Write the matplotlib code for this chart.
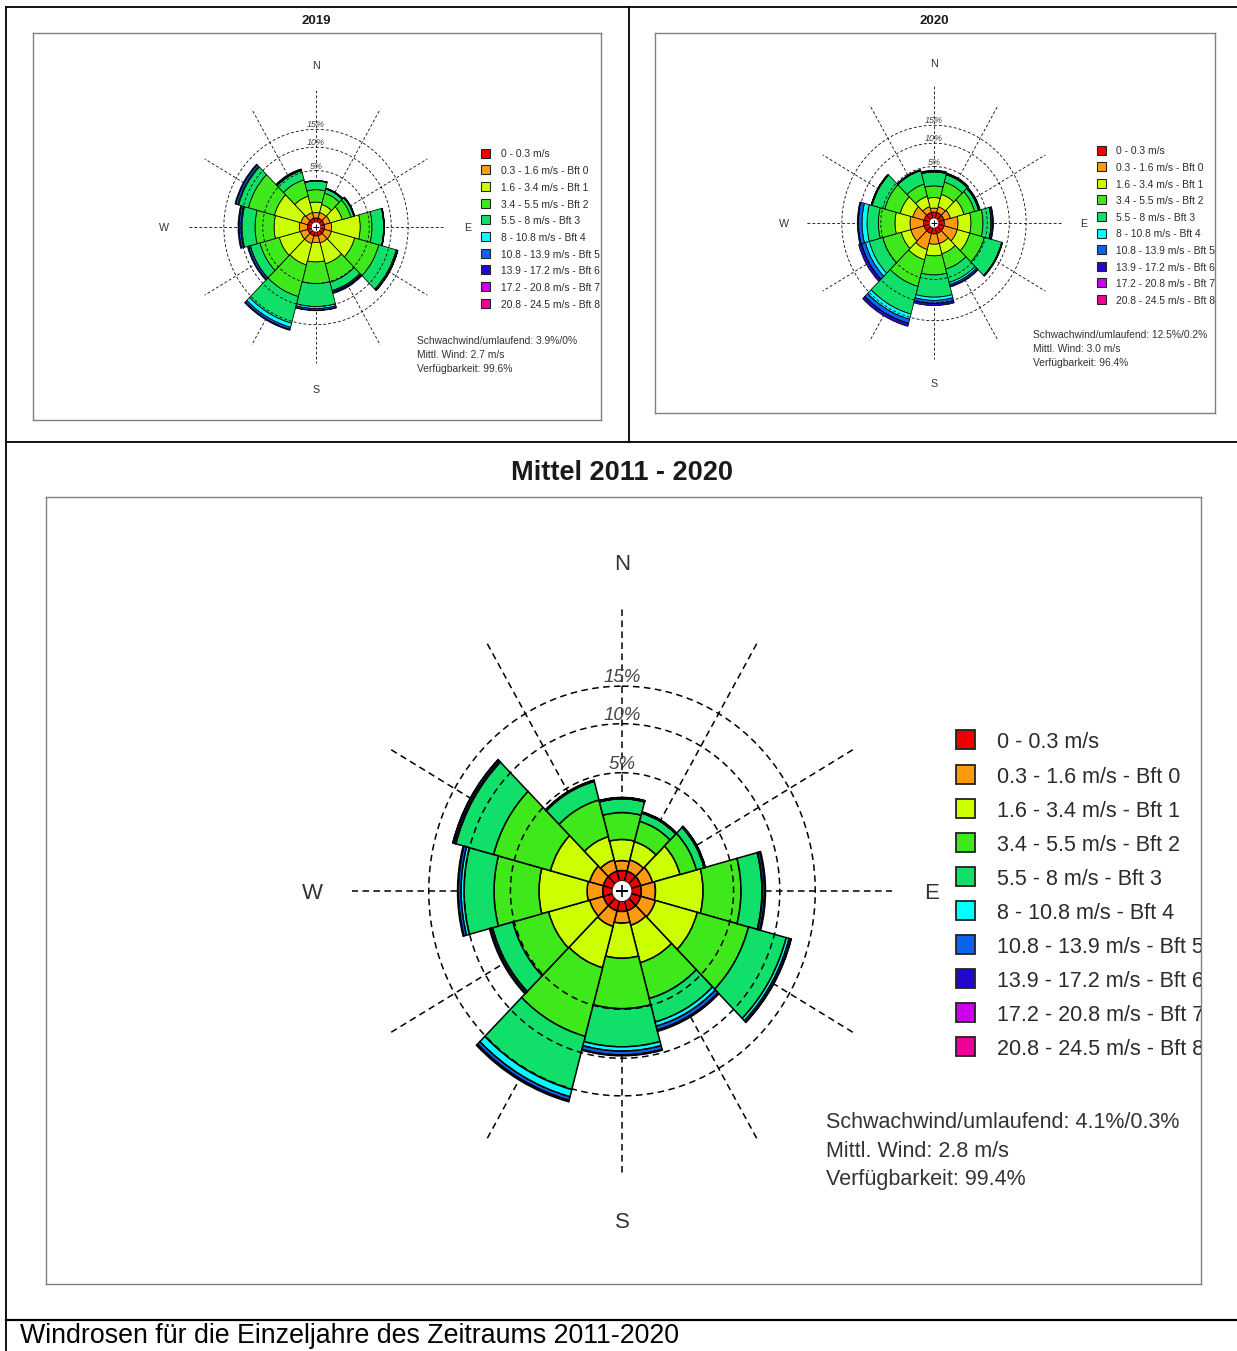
import numpy as np
import matplotlib.pyplot as plt
from matplotlib.patches import Rectangle

plt.rcParams['font.family'] = ['Liberation Sans', 'DejaVu Sans']

W, H = 1237, 1351

# sectors: N, NNE, ENE, E, ESE, SSE, S, SSW, WSW, W, WNW, NNW (degrees from north)
directions = [0, 30, 60, 90, 120, 150, 180, 210, 240, 270, 300, 330]

speed_labels = ['0 - 0.3 m/s', '0.3 - 1.6 m/s - Bft 0', '1.6 - 3.4 m/s - Bft 1',
                '3.4 - 5.5 m/s - Bft 2', '5.5 - 8 m/s - Bft 3', '8 - 10.8 m/s - Bft 4',
                '10.8 - 13.9 m/s - Bft 5', '13.9 - 17.2 m/s - Bft 6',
                '17.2 - 20.8 m/s - Bft 7', '20.8 - 24.5 m/s - Bft 8']
bin_colors = ['#ee0000', '#ff9a10', '#ccff00', '#3fe81a', '#10e06a', '#00ffff',
              '#0a64f0', '#2208cc', '#cc00ee', '#ee0099']

ring_levels = [5, 10, 15]

# frequency in % per speed class (rows) and sector (columns)
freq_2019 = [
    [0.13, 0.13, 0.13, 0.13, 0.13, 0.13, 0.13, 0.13, 0.13, 0.13, 0.13, 0.13],
    [0.20, 0.22, 0.25, 0.30, 0.32, 0.30, 0.25, 0.33, 0.33, 0.36, 0.30, 0.22],
    [0.65, 0.50, 0.91, 3.03, 2.37, 1.86, 1.54, 1.96, 2.09, 2.62, 2.83, 1.24],
    [1.21, 1.07, 1.00, 2.08, 4.64, 2.86, 3.13, 5.74, 3.39, 3.46, 5.39, 2.15],
    [1.13, 0.49, 0.40, 2.55, 4.70, 1.64, 4.88, 7.44, 2.22, 3.10, 2.65, 1.60],
    [0.02, 0.03, 0.03, 0.05, 0.29, 0.22, 0.53, 1.35, 0.05, 0.26, 0.28, 0.05],
    [0.04, 0.08, 0.08, 0.10, 0.20, 0.23, 0.42, 0.70, 0.44, 0.53, 0.58, 0.15],
    [0.02, 0.03, 0.03, 0.05, 0.10, 0.23, 0.14, 0.35, 0.25, 0.28, 0.29, 0.15],
    [0, 0, 0, 0, 0, 0, 0, 0, 0, 0, 0, 0],
    [0, 0, 0, 0, 0, 0, 0, 0, 0, 0, 0, 0],
]
freq_2020 = [
    [0.19, 0.19, 0.19, 0.19, 0.19, 0.19, 0.19, 0.19, 0.19, 0.19, 0.19, 0.19],
    [0.16, 0.26, 0.32, 0.83, 0.83, 0.52, 0.52, 1.00, 0.83, 0.83, 0.66, 0.26],
    [0.67, 0.93, 1.19, 1.40, 1.40, 0.88, 0.99, 1.09, 1.02, 1.67, 1.31, 0.74],
    [1.15, 1.44, 1.42, 1.82, 2.36, 1.99, 2.54, 4.50, 2.92, 2.79, 2.43, 1.36],
    [1.91, 1.08, 0.62, 1.50, 3.88, 2.36, 4.41, 7.20, 2.97, 2.45, 2.64, 2.04],
    [0.05, 0.05, 0.05, 0.05, 0.05, 0.42, 0.76, 1.62, 0.97, 1.23, 0.05, 0.05],
    [0.15, 0.15, 0.15, 0.25, 0.15, 0.32, 0.78, 1.35, 1.03, 0.96, 0.15, 0.10],
    [0.10, 0.10, 0.10, 0.20, 0.05, 0.22, 0.55, 1.05, 0.81, 0.27, 0.05, 0.05],
    [0, 0, 0, 0, 0, 0, 0, 0, 0, 0, 0, 0],
    [0, 0, 0, 0, 0, 0, 0, 0, 0, 0, 0, 0],
]
freq_mean = [
    [0.15, 0.15, 0.15, 0.15, 0.15, 0.15, 0.15, 0.15, 0.15, 0.15, 0.15, 0.15],
    [0.18, 0.22, 0.25, 0.30, 0.33, 0.30, 0.22, 0.33, 0.30, 0.34, 0.30, 0.22],
    [0.62, 0.56, 1.05, 2.19, 1.96, 1.52, 1.25, 1.78, 1.87, 2.28, 1.75, 0.76],
    [1.25, 0.93, 0.93, 3.05, 4.45, 2.46, 3.33, 5.84, 2.81, 3.81, 4.90, 2.05],
    [0.84, 0.46, 0.52, 2.18, 4.72, 2.15, 3.73, 7.01, 2.08, 3.45, 4.78, 1.42],
    [0.02, 0.02, 0.02, 0.05, 0.41, 0.42, 0.48, 1.11, 0.05, 0.38, 0.14, 0.03],
    [0.05, 0.04, 0.05, 0.25, 0.25, 0.40, 0.45, 0.55, 0.20, 0.35, 0.25, 0.05],
    [0.02, 0.02, 0.02, 0.10, 0.06, 0.15, 0.10, 0.25, 0.10, 0.10, 0.06, 0.03],
    [0, 0, 0, 0, 0, 0, 0, 0, 0, 0, 0, 0],
    [0, 0, 0, 0, 0, 0, 0, 0, 0, 0, 0, 0],
]

stats_2019 = ['Schwachwind/umlaufend: 3.9%/0%', 'Mittl. Wind: 2.7 m/s', 'Verfügbarkeit: 99.6%']
stats_2020 = ['Schwachwind/umlaufend: 12.5%/0.2%', 'Mittl. Wind: 3.0 m/s', 'Verfügbarkeit: 96.4%']
stats_mean = ['Schwachwind/umlaufend: 4.1%/0.3%', 'Mittl. Wind: 2.8 m/s', 'Verfügbarkeit: 99.4%']

caption = 'Windrosen für die Einzeljahre des Zeitraums 2011-2020'

R_MAX = 29.3    # % at the end of the spokes
HOLE = 0.04     # white centre
STRETCH = 1.06  # the picture is a bit taller than wide

panels = [
    dict(title='2019', freq=freq_2019, stats=stats_2019, box=(33, 33, 601, 420),
         title_xy=(316, 21), title_fs=9.5, center=(316, 227), k=23.8,
         compass=(152, 162), legend=(481, 501, 153, 16.7, 9), stats_xy=(417, 340, 14)),
    dict(title='2020', freq=freq_2020, stats=stats_2020, box=(655, 33, 1215, 413),
         title_xy=(934, 21), title_fs=9.5, center=(934, 223), k=23.8,
         compass=(150, 160), legend=(1097, 1116, 150, 16.6, 9), stats_xy=(1033, 334, 14)),
    dict(title='Mittel 2011 - 2020', freq=freq_mean, stats=stats_mean, box=(46, 497, 1201, 1284),
         title_xy=(622, 473), title_fs=19.5, center=(622, 891), k=49.9,
         compass=(310, 329), legend=(956, 997, 740, 34.1, 19), stats_xy=(826, 1120, 28.5)),
]

fig = plt.figure(figsize=(W / 100, H / 100), dpi=100)

bg = fig.add_axes([0, 0, 1, 1])
bg.set_xlim(0, W)
bg.set_ylim(H, 0)
bg.axis('off')
# table lines
bg.plot([6, W], [7, 7], color='black', lw=1.3)
bg.plot([6, 6], [7, H], color='black', lw=1.3)
bg.plot([629, 629], [7, 442], color='black', lw=1.3)
bg.plot([6, W], [442, 442], color='black', lw=1.3)
bg.plot([6, W], [1320, 1320], color='black', lw=1.6)
bg.text(20, 1336, caption, fontsize=19.3, ha='left', va='center', color='black')

for p in panels:
    s = p['k'] / 49.9
    nudge = 3 * s  # va='center' sits a little high for cap letters
    x0, y0, x1, y1 = p['box']
    cx, cy = p['center']
    bg.text(p['title_xy'][0], p['title_xy'][1], p['title'], fontsize=p['title_fs'],
            fontweight='bold', ha='center', va='center', color='#1a1a1a')

    frame = fig.add_axes([x0 / W, 1 - y1 / H, (x1 - x0) / W, (y1 - y0) / H])
    frame.set_xlim(x0, x1)
    frame.set_ylim(y1, y0)
    frame.set_xticks([])
    frame.set_yticks([])
    for sp in frame.spines.values():
        sp.set_color('#808080')
        sp.set_linewidth(1.0)

    # compass letters
    hx, vy = p['compass']
    for lab, dx, dy in [('N', 0, -vy), ('S', 0, vy), ('W', -hx, 0), ('E', hx, 0)]:
        frame.text(cx + dx, cy + dy + nudge, lab, fontsize=16 * s, ha='center', va='center',
                   color='#333333')

    # legend
    sq_x, tx, ly, ldy, sq = p['legend']
    for i, (lab, col) in enumerate(zip(speed_labels, bin_colors)):
        yc = ly + i * ldy
        frame.add_patch(Rectangle((sq_x, yc - sq / 2), sq, sq, facecolor=col,
                                  edgecolor='#222222', lw=1.0 * s + 0.3))
        frame.text(tx, yc + nudge, lab, fontsize=15.5 * s, ha='left', va='center',
                   color='#2b2b2b', clip_on=True)

    sx, sy, sdy = p['stats_xy']
    for i, line in enumerate(p['stats']):
        frame.text(sx, sy + i * sdy + nudge, line, fontsize=15.5 * s, ha='left', va='center',
                   color='#333333', clip_on=True)

    # the rose itself
    rx = p['k'] * np.sqrt(R_MAX)
    ry = rx * STRETCH
    pax = fig.add_axes([(cx - rx) / W, 1 - (cy + ry) / H, 2 * rx / W, 2 * ry / H],
                       projection='polar')
    pax.set_aspect('auto')
    pax.set_theta_zero_location('N')
    pax.set_theta_direction(-1)
    pax.set_rscale('function', functions=(np.sqrt, np.square))
    pax.set_rlim(0, R_MAX)
    pax.grid(False)
    pax.set_xticks([])
    pax.set_yticks([])
    pax.spines['polar'].set_visible(False)
    pax.patch.set_visible(False)

    lw_grid = 1.0 * s + 0.1
    dash = (4.3, 2.9) if s > 0.7 else (3.6, 2.6)
    theta = np.deg2rad(directions)
    for th in theta:
        pax.plot([th, th], [0, R_MAX], color='black', lw=lw_grid, dashes=dash, zorder=1)

    bottom = np.zeros(len(directions))
    for vals, col in zip(p['freq'], bin_colors):
        vals = np.asarray(vals, dtype=float)
        m = vals > 0
        if m.any():
            pax.bar(theta[m], vals[m], width=np.deg2rad(30), bottom=bottom[m], color=col,
                    edgecolor='black', linewidth=1.0 * s + 0.1, zorder=2)
        bottom += vals

    t = np.linspace(0, 2 * np.pi, 400)
    for ring in ring_levels:
        pax.plot(t, np.full_like(t, ring), color='black', lw=lw_grid, dashes=dash, zorder=3)
        pax.text(0, ring, f'{ring}%', fontsize=13.5 * s, style='italic',
                 ha='center', va='bottom', color='#444444', zorder=5)

    pax.bar(0, HOLE, width=2 * np.pi, bottom=0, color='white', edgecolor='none', zorder=4)
    pax.plot(t, np.full_like(t, HOLE), color='#550000', lw=0.6 * s + 0.2, zorder=4)
    pax.plot([0], [0], marker='+', color='black', ms=9 * s, mew=1.0 * s + 0.2, zorder=5)

fig.savefig('out.png', dpi=100)
